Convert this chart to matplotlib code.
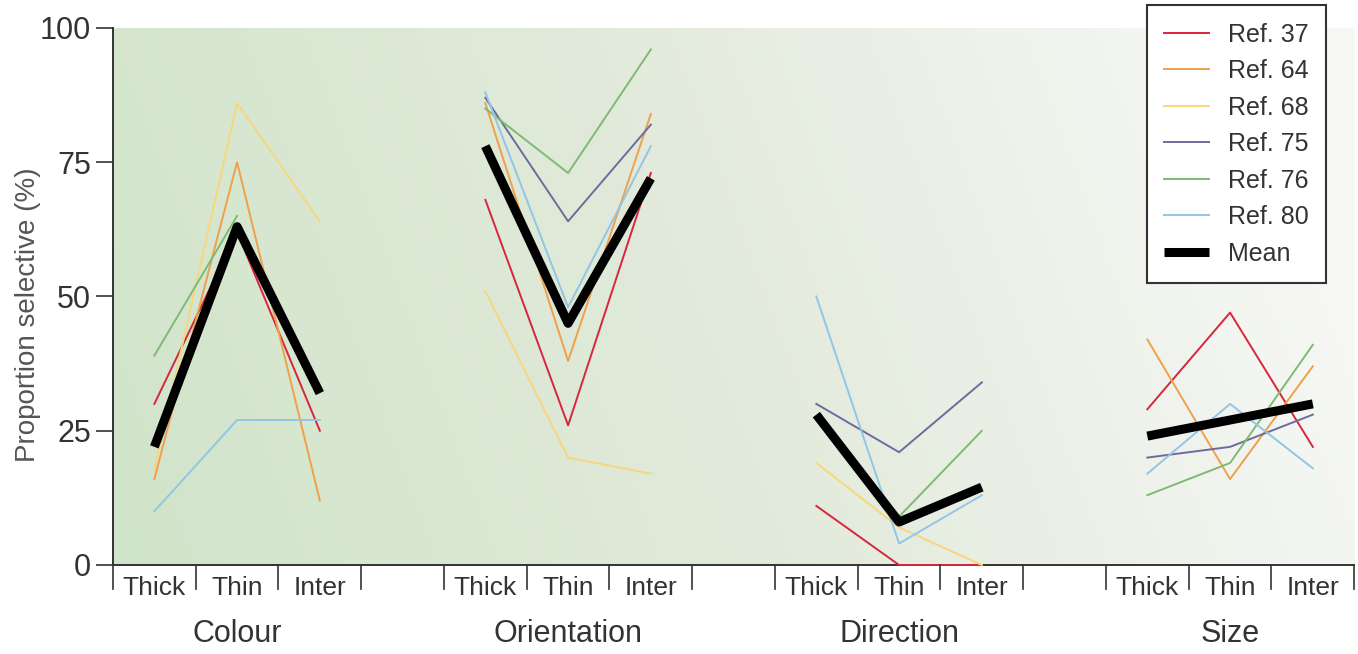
import numpy as np
import matplotlib
matplotlib.use('Agg')
import matplotlib.pyplot as plt
from matplotlib.colors import LinearSegmentedColormap

plt.rcParams['font.family'] = ['Liberation Sans', 'DejaVu Sans']

# groups and positions within each group
groups = ['Colour', 'Orientation', 'Direction', 'Size']
subs = ['Thick', 'Thin', 'Inter']

# values per study: Colour(3), Orientation(3), Direction(3), Size(3); nan = not measured
nan = np.nan
ref37 = [30, 62, 25, 68, 26, 73, 11, 0, 0, 29, 47, 22]
ref64 = [16, 75, 12, 86, 38, 84, nan, nan, nan, 42, 16, 37]
ref68 = [18, 86, 64, 51, 20, 17, 19, 7, 0, nan, nan, nan]
ref75 = [nan, nan, nan, 87, 64, 82, 30, 21, 34, 20, 22, 28]
ref76 = [39, 65, nan, 85, 73, 96, nan, 9, 25, 13, 19, 41]
ref80 = [10, 27, 27, 88, 48, 78, 50, 4, 13, 17, 30, 18]
mean = [22, 63, 32, 78, 45, 72, 28, 8, 14.5, 24, 27, 30]

series = [('Ref. 37', ref37, '#d7263d'),
          ('Ref. 64', ref64, '#f0a04b'),
          ('Ref. 68', ref68, '#f8d67c'),
          ('Ref. 75', ref75, '#6c6c9c'),
          ('Ref. 76', ref76, '#7dbb73'),
          ('Ref. 80', ref80, '#92c5e6')]

fig = plt.figure(figsize=(13.58, 6.54), dpi=100)
ax = fig.add_axes([0.0832, 0.1361, 0.9140, 0.8211])

# slot positions: 3 per group, one empty slot between groups
xpos = [4 * g + s for g in range(len(groups)) for s in range(3)]

# background gradient (green left -> near white right)
cmap = LinearSegmentedColormap.from_list('bg', ['#d0e4c9', '#e1eada', '#f6f7f4'])
gx, gy = np.meshgrid(np.linspace(0, 1, 400), np.linspace(0, 1, 200))
grad = np.clip(gx * 0.95 + (1 - gy) * 0.15, 0, 1)
ax.imshow(grad, cmap=cmap, extent=[-0.5, 14.5, 0, 100], aspect='auto',
          origin='upper', zorder=0, interpolation='bilinear')

handles = []
for name, vals, col in series:
    for g in range(len(groups)):
        xs = xpos[3 * g:3 * g + 3]
        ys = vals[3 * g:3 * g + 3]
        ln, = ax.plot(xs, ys, color=col, lw=1.4, zorder=3, clip_on=False)
    ln.set_label(name)
    handles.append(ln)
for g in range(len(groups)):
    ml, = ax.plot(xpos[3 * g:3 * g + 3], mean[3 * g:3 * g + 3], color='black',
                  lw=6.5, solid_capstyle='butt', zorder=4)
ml.set_label('Mean')
handles.append(ml)

ax.set_xlim(-0.5, 14.5)
ax.set_ylim(0, 100)
ax.set_yticks([0, 25, 50, 75, 100])
ax.tick_params(axis='y', direction='out', length=12, width=1.2, colors='#333333',
               labelsize=22, pad=4)
ax.set_xticks(np.arange(-0.5, 15, 1.0))
ax.set_xticklabels([])
ax.tick_params(axis='x', direction='in', length=0)
ax.set_xticks(xpos, minor=True)
ax.set_xticklabels(subs * len(groups), minor=True)
ax.tick_params(axis='x', which='minor', length=0, labelsize=19, colors='#333333', pad=8)
# boundary ticks hanging below the axis
for xb in np.arange(-0.5, 15, 1.0):
    ax.plot([xb, xb], [0, -4.5], color='#333333', lw=1.2, clip_on=False, zorder=4)

for g, name in enumerate(groups):
    ax.text(4 * g + 1, -12.8, name, ha='center', va='center', fontsize=22,
            color='#333333', transform=ax.transData)

ax.set_ylabel('Proportion selective (%)', fontsize=20, color='#555555')
ax.yaxis.set_label_coords(-0.058, 0.466)
for s in ['top', 'right']:
    ax.spines[s].set_visible(False)
for s in ['left', 'bottom']:
    ax.spines[s].set_color('#333333')
    ax.spines[s].set_linewidth(1.4)
    ax.spines[s].set_zorder(2.5)

leg = fig.legend(handles=handles, loc='upper left', bbox_to_anchor=(0.8446, 0.992),
                 borderaxespad=0, fancybox=False, framealpha=1, edgecolor='#333333',
                 handlelength=1.8, labelspacing=0.5, borderpad=0.7, handletextpad=0.75,
                 prop={'family': ['Liberation Sans', 'DejaVu Sans'], 'size': 18})
leg.get_frame().set_linewidth(1.5)
for t in leg.get_texts():
    t.set_color('#333333')

fig.savefig('out.png', dpi=100)
